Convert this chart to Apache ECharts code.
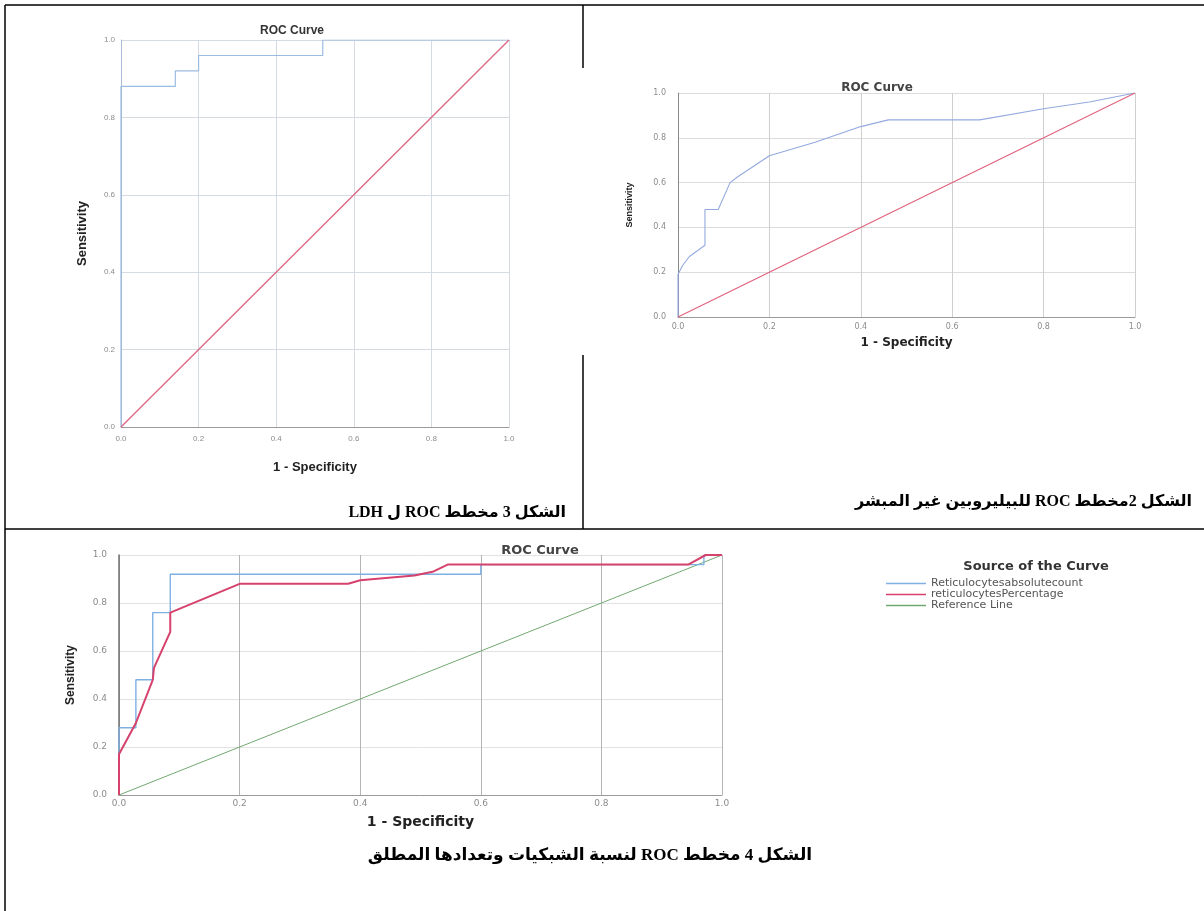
<!DOCTYPE html>
<html>
<head>
<meta charset="utf-8">
<title>ROC curves</title>
<script src="https://cdn.jsdelivr.net/npm/echarts@6/dist/echarts.min.js"></script>
<style>
  html, body { margin: 0; padding: 0; background: #fff; }
  #main { width: 1204px; height: 911px; }
</style>
</head>
<body>
<div id="main"></div>
<script>
// LDH (figure 3)
const ldhFpr = [0, 0, 0.14, 0.14, 0.2, 0.2, 0.52, 0.52, 1]
const ldhTpr = [0, 0.88, 0.88, 0.92, 0.92, 0.96, 0.96, 1, 1]
// unconjugated bilirubin (figure 2)
const biliFpr = [0, 0, 0.01, 0.025, 0.059, 0.059, 0.088, 0.114, 0.13, 0.2, 0.3, 0.4, 0.46, 0.66, 0.8, 0.9, 1]
const biliTpr = [0, 0.19, 0.23, 0.27, 0.32, 0.48, 0.48, 0.6, 0.625, 0.72, 0.78, 0.85, 0.88, 0.88, 0.93, 0.96, 1]
// reticulocytes (figure 4)
const retAbsFpr = [0, 0, 0.028, 0.028, 0.056, 0.056, 0.085, 0.085, 0.6, 0.6, 0.97, 0.97, 1]
const retAbsTpr = [0, 0.28, 0.28, 0.48, 0.48, 0.76, 0.76, 0.92, 0.92, 0.96, 0.96, 1, 1]
const retPctFpr = [0, 0, 0.028, 0.056, 0.058, 0.085, 0.085, 0.2, 0.38, 0.4, 0.49, 0.52, 0.545, 0.944, 0.973, 1]
const retPctTpr = [0, 0.17, 0.3, 0.48, 0.53, 0.68, 0.76, 0.88, 0.88, 0.895, 0.915, 0.93, 0.96, 0.96, 1, 1]
const diagFpr = [0, 1]
const diagTpr = [0, 1]

const seriesNames = ['Reticulocytesabsolutecount', 'reticulocytesPercentage', 'Reference Line']
const captions = [
  'الشكل 3 مخطط ROC ل LDH',
  'الشكل 2مخطط ROC للبيليروبين غير المبشر',
  'الشكل 4 مخطط ROC لنسبة الشبكيات وتعدادها المطلق'
]

const zip = (xs, ys) => xs.map((x, i) => [x, ys[i]])
const rtl = s => '\u202B' + s + '\u202C'

const SANS = '"Liberation Sans", Arial, sans-serif'
const WIDE = '"DejaVu Sans", sans-serif'
const ARABIC = '"Liberation Serif", "DejaVu Sans", serif'

function xAxisFor(grid, o) {
  return {
    type: 'value', gridIndex: grid, min: 0, max: 1, interval: 0.2,
    name: '1 - Specificity', nameLocation: 'middle', nameGap: o.nameGap,
    nameTextStyle: { fontFamily: o.font, fontWeight: 'bold', fontSize: o.nameSize, color: '#222' },
    axisLine: { lineStyle: { color: '#9a9a9a', width: 1 } },
    axisTick: { show: false },
    axisLabel: { formatter: v => v.toFixed(1), fontSize: o.labelSize, fontFamily: o.font, color: '#8c8c8c', margin: o.labelMargin },
    splitLine: { show: true, lineStyle: { color: o.vGrid, width: 1 } }
  }
}

function yAxisFor(grid, o) {
  return {
    type: 'value', gridIndex: grid, min: 0, max: 1, interval: 0.2,
    name: 'Sensitivity', nameLocation: 'middle', nameGap: o.nameGap, nameRotate: 90,
    nameTextStyle: { fontFamily: SANS, fontWeight: 'bold', fontSize: o.nameSize, color: '#222' },
    axisLine: { show: true, lineStyle: { color: o.axisColor, width: o.axisWidth } },
    axisTick: { show: false },
    axisLabel: { formatter: v => v.toFixed(1), fontSize: o.labelSize, fontFamily: o.font, color: '#8c8c8c', margin: o.labelMargin },
    splitLine: { show: true, lineStyle: { color: o.hGrid, width: 1 } }
  }
}

function line(name, grid, data, color, width) {
  return {
    name: name, type: 'line', xAxisIndex: grid, yAxisIndex: grid,
    data: data, showSymbol: false, symbol: 'none',
    lineStyle: { color: color, width: width }, itemStyle: { color: color },
    silent: true, z: 3
  }
}

const chart = echarts.init(document.getElementById('main'))
chart.setOption({
  animation: false,
  backgroundColor: '#fff',
  title: [
    { text: 'ROC Curve', left: 287, top: 20, textAlign: 'center', textStyle: { fontFamily: SANS, fontSize: 12, fontWeight: 'bold', color: '#333' } },
    { text: 'ROC Curve', left: 872, top: 77, textAlign: 'center', textStyle: { fontFamily: WIDE, fontSize: 12, fontWeight: 'bold', color: '#444' } },
    { text: 'ROC Curve', left: 535, top: 539, textAlign: 'center', textStyle: { fontFamily: WIDE, fontSize: 13, fontWeight: 'bold', color: '#444' } },
    { text: 'Source of the Curve', left: 1031, top: 555, textAlign: 'center', textStyle: { fontFamily: WIDE, fontSize: 13, fontWeight: 'bold', color: '#333' } }
  ],
  legend: {
    data: seriesNames,
    orient: 'vertical', left: 881, top: 573,
    icon: 'rect', itemWidth: 40, itemHeight: 1.5, itemGap: 0,
    selectedMode: false,
    textStyle: { fontFamily: WIDE, fontSize: 11, lineHeight: 11, color: '#555' }
  },
  grid: [
    { left: 121, top: 40, width: 388, height: 387 },
    { left: 678, top: 93, width: 457, height: 224 },
    { left: 119, top: 555, width: 603, height: 240 }
  ],
  xAxis: [
    xAxisFor(0, { font: SANS, nameSize: 13, nameGap: 34, labelSize: 8, labelMargin: 8, vGrid: '#d5dbe3' }),
    xAxisFor(1, { font: WIDE, nameSize: 12, nameGap: 20, labelSize: 8, labelMargin: 6, vGrid: '#cfcfcf' }),
    xAxisFor(2, { font: WIDE, nameSize: 14, nameGap: 20, labelSize: 9, labelMargin: 4, vGrid: '#b5b5b5' })
  ],
  yAxis: [
    yAxisFor(0, { font: SANS, nameSize: 13, nameGap: 32, labelSize: 8, labelMargin: 6, hGrid: '#d5dbe3', axisColor: '#a9bdd6', axisWidth: 1 }),
    yAxisFor(1, { font: WIDE, nameSize: 9, nameGap: 44, labelSize: 8, labelMargin: 12, hGrid: '#dcdcdc', axisColor: '#8a8a8a', axisWidth: 1 }),
    yAxisFor(2, { font: WIDE, nameSize: 12, nameGap: 42, labelSize: 9, labelMargin: 12, hGrid: '#e2e2e2', axisColor: '#707070', axisWidth: 1.5 })
  ],
  series: [
    line('LDH', 0, zip(ldhFpr, ldhTpr), '#9cbbe0', 1.2),
    line('LDH reference', 0, zip(diagFpr, diagTpr), '#dc6a86', 1.4),
    line('Bilirubin', 1, zip(biliFpr, biliTpr), '#93a9df', 1.1),
    line('Bilirubin reference', 1, zip(diagFpr, diagTpr), '#e0607c', 1.1),
    line(seriesNames[2], 2, zip(diagFpr, diagTpr), '#72a872', 1),
    line(seriesNames[0], 2, zip(retAbsFpr, retAbsTpr), '#7fb0e3', 1.4),
    line(seriesNames[1], 2, zip(retPctFpr, retPctTpr), '#d6426c', 2)
  ],
  graphic: [
    // table borders
    { type: 'line', shape: { x1: 5, y1: 5, x2: 1204, y2: 5 }, style: { stroke: '#000', lineWidth: 1.5 } },
    { type: 'line', shape: { x1: 5, y1: 5, x2: 5, y2: 911 }, style: { stroke: '#000', lineWidth: 1.5 } },
    { type: 'line', shape: { x1: 583, y1: 5, x2: 583, y2: 68 }, style: { stroke: '#000', lineWidth: 1.5 } },
    { type: 'line', shape: { x1: 583, y1: 355, x2: 583, y2: 529 }, style: { stroke: '#000', lineWidth: 1.5 } },
    { type: 'line', shape: { x1: 5, y1: 529, x2: 1204, y2: 529 }, style: { stroke: '#000', lineWidth: 1.5 } },
    // captions
    { type: 'text', x: 566, y: 513, style: { text: rtl(captions[0]), font: 'bold 16px ' + ARABIC, fill: '#000', align: 'right', verticalAlign: 'middle' } },
    { type: 'text', x: 1192, y: 502, style: { text: rtl(captions[1]), font: 'bold 16px ' + ARABIC, fill: '#000', align: 'right', verticalAlign: 'middle' } },
    { type: 'text', x: 590, y: 856, style: { text: rtl(captions[2]), font: 'bold 17px ' + ARABIC, fill: '#000', align: 'center', verticalAlign: 'middle' } }
  ]
})
</script>
</body>
</html>
